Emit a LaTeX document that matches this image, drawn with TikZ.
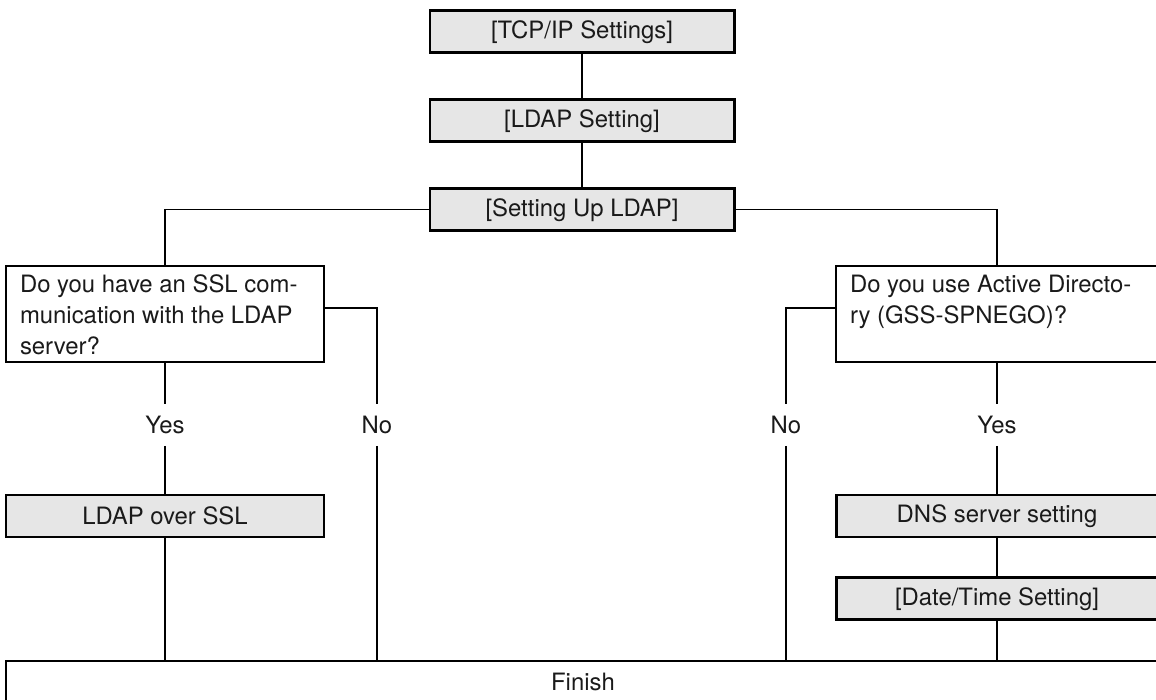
\documentclass[tikz,border=0pt]{standalone}
\usepackage{fontspec}
\setmainfont{TeX Gyre Heros}
\usepackage{xcolor}
\usepackage{tikz}
\usetikzlibrary{positioning,calc}
\definecolor{cfondo}{HTML}{E6E6E6}
\definecolor{cnegro}{HTML}{1A1A1A}
\tikzset{
  ajuste/.style={rectangle, draw=black, fill=cfondo, line width=1.7pt,
    minimum width=6.08cm, minimum height=0.84cm, inner sep=0pt,
    font=\fontsize{13.6}{17.6}\selectfont, text=cnegro},
  pregunta/.style={rectangle, draw=black, line width=0.6pt,
    inner xsep=0.28cm, inner ysep=0pt,
    font=\fontsize{13.6}{17.6}\selectfont, text=cnegro},
  fin/.style={rectangle, draw=black, line width=0.6pt,
    minimum width=23.08cm, minimum height=0.84cm, inner sep=0pt,
    font=\fontsize{13.6}{17.6}\selectfont, text=cnegro},
  resp/.style={inner sep=0pt, minimum height=0.82cm,
    font=\fontsize{13.6}{17.6}\selectfont, text=cnegro},
  linea/.style={line width=0.6pt, draw=black},
}
\begin{document}
\begin{tikzpicture}[node distance=0.88cm]
  \useasboundingbox (0,0) rectangle (23.12,14);
  \node[ajuste] (tcp) at (11.64,13.36) {[TCP/IP Settings]};
  \node[ajuste, below=of tcp] (ldap) {[LDAP Setting]};
  \node[ajuste, below=of ldap] (setup) {[Setting Up LDAP]};
  % two questions
  \node[pregunta] (ssl) at (3.3,7.72)
    {\parbox[c][1.92cm][t]{5.8cm}{\raggedright\rule{0pt}{0.54cm}Do you have an SSL com-\\munication with the LDAP\\server?}};
  \node[pregunta] (ad) at (19.94,7.72)
    {\parbox[c][1.92cm][t]{5.88cm}{\raggedright\rule{0pt}{0.54cm}Do you use Active Directo-\\ry (GSS-SPNEGO)?}};
  \node[resp] (yes1) at (3.3,5.5) {Yes};
  \node[resp] (no1) at (7.54,5.5) {No};
  \node[resp] (no2) at (15.72,5.5) {No};
  \node[resp] (yes2) at (19.94,5.5) {Yes};
  \node[ajuste, minimum width=6.36cm] (over) at (3.3,3.68) {LDAP over SSL};
  \node[ajuste, minimum width=6.44cm] (dns) at (19.94,3.68) {DNS server setting};
  \node[ajuste, minimum width=6.44cm, below=0.76cm of dns] (fecha) {[Date/Time Setting]};
  \node[fin] (finish) at (11.66,0.36) {Finish};
  \draw[linea] (tcp) -- (ldap);
  \draw[linea] (ldap) -- (setup);
  \draw[linea] (setup.west) -| (ssl.north);
  \draw[linea] (setup.east) -| (ad.north);
  \draw[linea] (ssl) -- (yes1);
  \draw[linea] ([yshift=1.2mm]ssl.east) -| (no1.north);
  \draw[linea] (yes1) -- (over);
  \draw[linea] (over) -- (over |- finish.north);
  \draw[linea] (no1) -- (no1 |- finish.north);
  \draw[linea] ([yshift=1.2mm]ad.west) -| (no2.north);
  \draw[linea] (ad) -- (yes2);
  \draw[linea] (yes2) -- (dns);
  \draw[linea] (dns) -- (fecha);
  \draw[linea] (no2) -- (no2 |- finish.north);
  \draw[linea] (fecha) -- (fecha |- finish.north);
\end{tikzpicture}
\end{document}
